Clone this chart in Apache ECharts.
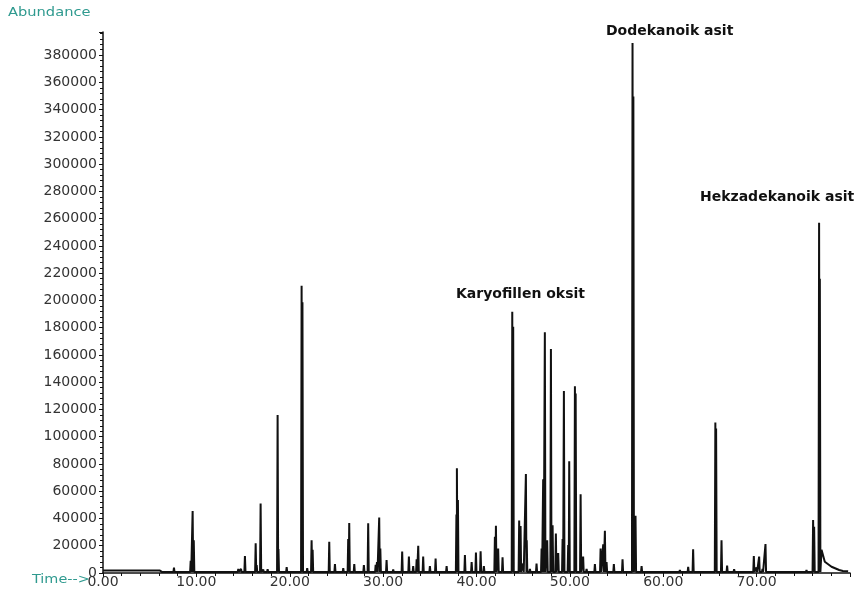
<!DOCTYPE html>
<html>
<head>
<meta charset="utf-8">
<script src="https://cdn.jsdelivr.net/npm/echarts@6/dist/echarts.min.js"></script>
<style>
  html, body { margin: 0; padding: 0; background: #fff; }
  #main { width: 857px; height: 594px; }
</style>
</head>
<body>
<div id="main"></div>
<script>
// retention time (min) and abundance of each peak
const peakTime = [
  6.28, 6.82, 7.60, 8.24, 9.39, 9.60, 9.72, 12.42, 14.49, 14.78,
  15.20, 16.35, 16.46, 16.88, 17.16, 17.63, 18.70, 18.79, 19.67, 20.31,
  21.27, 21.36, 21.87, 22.34, 22.45, 24.23, 24.84, 25.73, 26.26, 26.37,
  26.91, 27.33, 27.94, 28.40, 29.20, 29.34, 29.58, 29.70, 30.37, 31.08,
  32.04, 32.76, 33.22, 33.59, 33.76, 34.29, 35.01, 35.62, 36.80, 37.85,
  37.90, 38.01, 38.76, 39.48, 39.94, 40.44, 40.79, 41.97, 42.08, 42.32,
  42.79, 43.83, 43.93, 44.57, 44.72, 45.00, 45.29, 45.38, 45.72, 46.43,
  46.97, 47.14, 47.32, 47.57, 47.97, 48.15, 48.50, 48.75, 49.22, 49.36,
  49.82, 49.93, 50.54, 50.62, 51.15, 51.42, 51.79, 52.68, 53.29, 53.57,
  53.75, 53.93, 54.71, 55.64, 56.07, 56.71, 56.80, 57.03, 57.68, 58.57,
  59.28, 59.82, 60.89, 61.78, 62.67, 63.20, 64.27, 65.58, 65.66, 66.24,
  66.84, 67.59, 68.38, 69.70, 69.99, 70.27, 70.63, 70.95, 72.48, 73.20,
  74.63, 75.34, 76.05, 76.16, 76.69, 76.77
];
const peakHeight = [
  3000, 1500, 4000, 1500, 9000, 45500, 24000, 1500, 3000, 3000,
  12500, 21800, 5900, 51000, 2500, 2700, 116000, 17600, 4400, 1500,
  210800, 198600, 3600, 24000, 17000, 23000, 6600, 3600, 25000, 36600,
  6600, 1500, 5900, 36500, 6000, 8000, 40700, 18000, 9500, 2500,
  15800, 12000, 5000, 10000, 20000, 12000, 5000, 10700, 5000, 43000,
  76800, 53500, 13200, 8000, 15000, 16000, 5000, 26600, 34600, 18000,
  11500, 191700, 180700, 38500, 34500, 7000, 72600, 24000, 3000, 7000,
  18000, 68700, 176600, 24000, 164300, 35000, 29000, 14600, 25000, 133500,
  20500, 82000, 137000, 131800, 57700, 12000, 3000, 6600, 18000, 21000,
  31000, 8000, 6600, 10000, 2000, 389000, 349700, 42000, 5000, 1000,
  1000, 1500, 2000, 2200, 4600, 17400, 1500, 110500, 106000, 24000,
  5400, 2700, 1000, 12500, 4000, 12000, 3000, 21300, 1000, 1000,
  1500, 2200, 38900, 34000, 257000, 216000
];
// slow decay after the last big peak
const tailTime = [76.95, 77.30, 78.02, 78.84, 79.24, 79.80];
const tailHeight = [17000, 8300, 4600, 2200, 1500, 1200];

// solvent delay box at the start of the run
const delayEnd = 6.1;
const delayLevel = 1800;
const baseLevel = 700;

const xTicks = [0, 10, 20, 30, 40, 50, 60, 70];

const labels = [
  { text: 'Dodekanoik asit', x: 606, y: 31 },
  { text: 'Hekzadekanoik asit', x: 700, y: 197 },
  { text: 'Karyofillen oksit', x: 456, y: 294 }
];

// turn the peak list into a trace: every peak is a thin spike off the baseline
var trace = [[0, delayLevel], [delayEnd, delayLevel], [delayEnd, baseLevel]];
var half = 0.06;
for (let i = 0; i < peakTime.length; i++) {
  trace.push([peakTime[i] - half, baseLevel]);
  trace.push([peakTime[i], peakHeight[i]]);
  trace.push([peakTime[i] + half, baseLevel]);
}
for (let i = 0; i < tailTime.length; i++) {
  trace.push([tailTime[i], tailHeight[i]]);
}

var chart = echarts.init(document.getElementById('main'));

var graphics = labels.map(function(l) {
  return {
    type: 'text', x: l.x, y: l.y,
    style: { text: l.text, fill: '#111', font: 'bold 14px "DejaVu Sans"', verticalAlign: 'middle' }
  };
});
graphics.push({
  type: 'text', x: 8, y: 13, scaleX: 1.22,
  style: { text: 'Abundance', fill: '#2f9a8f', font: '12px "DejaVu Sans"', verticalAlign: 'middle' }
});
graphics.push({
  type: 'text', x: 32, y: 580, scaleX: 1.2,
  style: { text: 'Time-->', fill: '#2f9a8f', font: '12px "DejaVu Sans"', verticalAlign: 'middle' }
});

chart.setOption({
  animation: false,
  backgroundColor: '#fff',
  grid: { left: 103, right: 7, top: 32, bottom: 21, containLabel: false },
  xAxis: {
    type: 'value',
    min: 0, max: 80, interval: 10,
    axisLine: { lineStyle: { color: '#111', width: 1.5 } },
    axisTick: { show: true, inside: false, length: 4, lineStyle: { color: '#111' } },
    minorTick: { show: true, splitNumber: 5, length: 3, lineStyle: { color: '#111' } },
    splitLine: { show: false },
    axisLabel: {
      margin: 2, color: '#333', fontFamily: 'DejaVu Sans', fontSize: 14,
      showMaxLabel: false,
      formatter: function(v) { return xTicks.indexOf(v) >= 0 ? v.toFixed(2) : ''; }
    }
  },
  yAxis: {
    type: 'value',
    min: 0, max: 397000, interval: 20000,
    axisLine: { show: true, lineStyle: { color: '#111', width: 1.5 } },
    axisTick: { show: true, length: 4, lineStyle: { color: '#111' } },
    minorTick: { show: true, splitNumber: 5, length: 3, lineStyle: { color: '#111' } },
    splitLine: { show: false },
    axisLabel: {
      margin: 6, color: '#333', fontFamily: 'DejaVu Sans', fontSize: 14,
      showMaxLabel: false,
      formatter: function(v) { return v % 20000 === 0 ? String(v) : ''; }
    }
  },
  graphic: graphics,
  series: [{
    type: 'line',
    data: trace,
    showSymbol: false,
    symbol: 'none',
    lineStyle: { color: '#111', width: 2 },
    clip: true
  }]
});
</script>
</body>
</html>
